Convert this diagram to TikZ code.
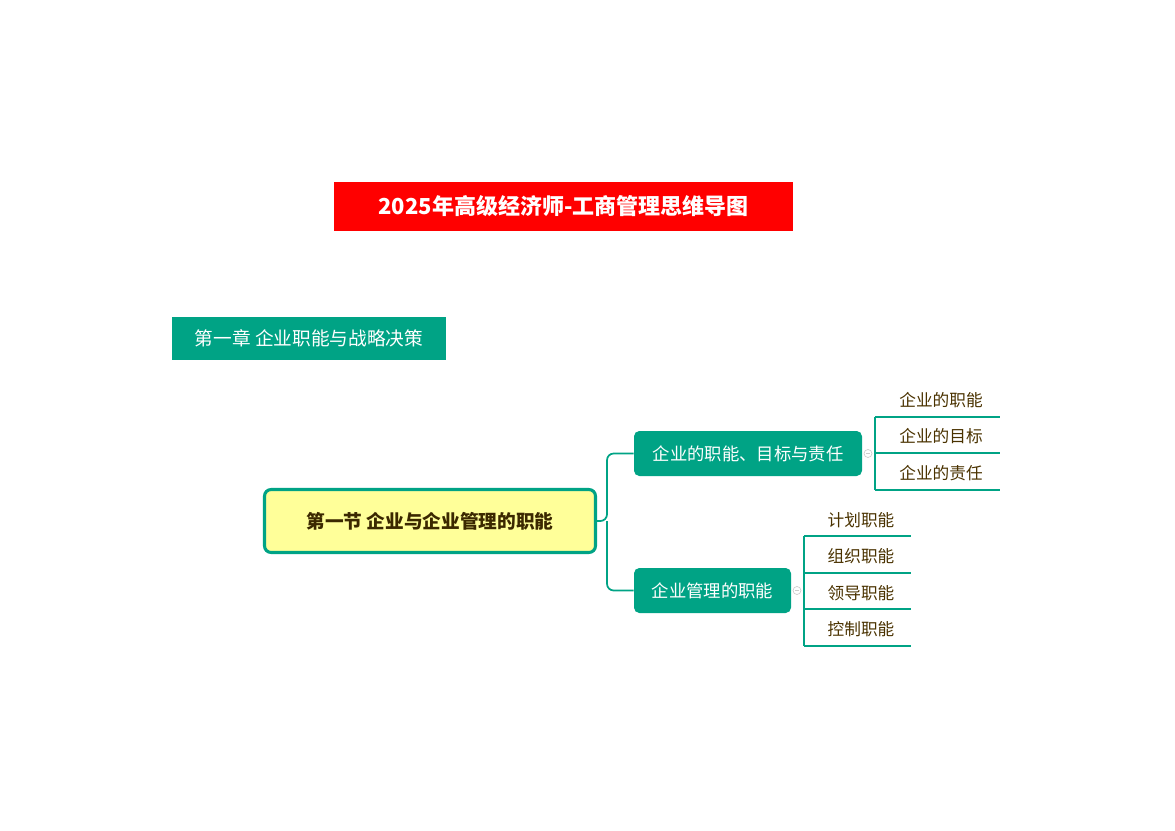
\documentclass[tikz,border=0pt]{standalone}
\usepackage{fontspec}
\setmainfont{Noto Sans CJK SC}
\definecolor{teal1}{HTML}{00A385}
\definecolor{leaftxt}{HTML}{4A3200}
\definecolor{rootfill}{HTML}{FFFF99}
\begin{document}
\begin{tikzpicture}[x=0.75pt,y=-0.75pt,
  box/.style={fill=teal1,text=white,font=\fontsize{13}{15}\selectfont,inner sep=0,anchor=center},
  leaf/.style={text=leaftxt,font=\fontsize{12.5}{15}\selectfont,anchor=center},
  ln/.style={teal1,line width=1.3pt},
  fold/.style={circle,draw=gray!40,line width=0.5pt,minimum size=6pt,inner sep=0}]
\useasboundingbox (0,0) rectangle (1175,831);
\node[fill=red,text=white,font=\bfseries\fontsize{16.5}{20}\selectfont,minimum width=459*0.75pt,minimum height=49*0.75pt,inner sep=0] (title) at (563.5,206.5) {2025年高级经济师-工商管理思维导图};
\node[box,minimum width=274*0.75pt,minimum height=43*0.75pt,font=\fontsize{14}{17}\selectfont] (ch) at (309,338.5) {第一章 企业职能与战略决策};
\node[draw=teal1,line width=2.3pt,fill=rootfill,rounded corners=5pt,minimum width=331*0.75pt,minimum height=63*0.75pt,inner sep=0,text=leaftxt!80!black,font=\bfseries\fontsize{14}{17}\selectfont] (root) at (430,521) {第一节 企业与企业管理的职能};
\node[box,rounded corners=4pt,minimum width=228*0.75pt,minimum height=45*0.75pt] (c1) at (748,453.5) {企业的职能、目标与责任};
\node[box,rounded corners=4pt,minimum width=157*0.75pt,minimum height=45*0.75pt] (c2) at (712.5,590.5) {企业管理的职能};
\coordinate (j) at (607,521);
\draw[ln,rounded corners=5pt] (root.east) -- (j) |- (c1.west);
\draw[ln,rounded corners=5pt] (j) |- (c2.west);
\node[fold] (f1) at (868,453.5) {};
\draw[gray!40,line width=0.5pt] (866,453.5) -- (870,453.5);
\node[fold] (f2) at (797,590.5) {};
\draw[gray!40,line width=0.5pt] (795,590.5) -- (799,590.5);
% group 1
\coordinate (a0) at (875,417);\coordinate (a1) at (875,453);\coordinate (a2) at (875,490);
\coordinate (b0) at (1000,417);\coordinate (b1) at (1000,453);\coordinate (b2) at (1000,490);
\draw[ln] (a0)--(b0) (a1)--(b1) (a2)--(b2) (a0)--(a2);
\node[leaf] (l1) at (941,400) {企业的职能};
\node[leaf] (l2) at (941,436.5) {企业的目标};
\node[leaf] (l3) at (941,473) {企业的责任};
% group 2
\coordinate (p0) at (804,536);\coordinate (p1) at (804,573);\coordinate (p2) at (804,609);\coordinate (p3) at (804,646);
\coordinate (q0) at (911,536);\coordinate (q1) at (911,573);\coordinate (q2) at (911,609);\coordinate (q3) at (911,646);
\draw[ln] (p0)--(q0) (p1)--(q1) (p2)--(q2) (p3)--(q3) (p0)--(p3);
\node[leaf] (m1) at (861,520) {计划职能};
\node[leaf] (m2) at (861,556) {组织职能};
\node[leaf] (m3) at (861,593) {领导职能};
\node[leaf] (m4) at (861,629) {控制职能};
\end{tikzpicture}
\end{document}
